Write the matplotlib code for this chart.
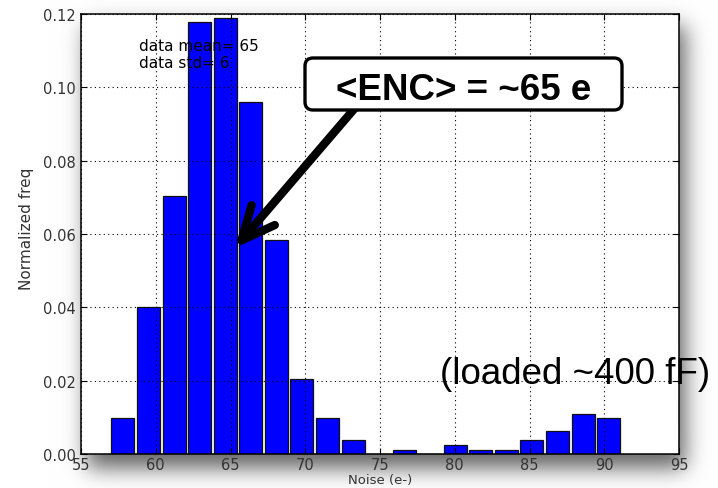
import matplotlib
matplotlib.use("Agg")
import matplotlib.pyplot as plt
import numpy as np
from matplotlib.patches import FancyBboxPatch

# histogram: 20 bins, first edge ~56.95, width ~1.71
bin_start = 56.95
bin_width = 1.71
freq = [0.0098, 0.0402, 0.0705, 0.1177, 0.1189, 0.0960, 0.0585, 0.0205,
        0.0098, 0.0037, 0.0, 0.0012, 0.0, 0.0025, 0.0012, 0.0012,
        0.0037, 0.0062, 0.0110, 0.0098]
x_ticks = [55, 60, 65, 70, 75, 80, 85, 90, 95]
y_ticks = [0.00, 0.02, 0.04, 0.06, 0.08, 0.10, 0.12]
stats_text = "data mean= 65\ndata std= 6"
enc_text = "<ENC> = ~65 e"
load_text = "(loaded ~400 fF)"

W, H = 718, 489
fig = plt.figure(figsize=(W / 100, H / 100), dpi=100)
fig.patch.set_facecolor("white")

# -----------------------------------------------------------------------------
# soft drop shadow of the plot frame (offset down/right, blurred)
# -----------------------------------------------------------------------------
pad = 60
mask = np.zeros((H + 2 * pad, W + 2 * pad))
mask[pad + 15 + 12:pad + 455 + 14, pad + 81 + 6:pad + 679 + 6] = 1.0
k = np.exp(-0.5 * (np.arange(-40, 41) / 11.0) ** 2)
k /= k.sum()
mask = np.apply_along_axis(lambda r: np.convolve(r, k, mode="same"), 1, mask)
mask = np.apply_along_axis(lambda c: np.convolve(c, k, mode="same"), 0, mask)
mask = mask[pad:pad + H, pad:pad + W]
shade = 1.0 - 0.62 * mask
img = np.dstack([shade, shade, shade])
fig.figimage(img, xo=0, yo=0, origin="upper", zorder=-1)

ax = fig.add_axes([81 / W, 1 - 455 / H, 598 / W, 440 / H])
ax.set_facecolor("white")

edges = bin_start + bin_width * np.arange(len(freq))
centers = edges + bin_width / 2
ax.bar(centers, freq, width=bin_width * 0.9, color="#0000ff",
       edgecolor="#111111", linewidth=0.9, zorder=2)

ax.set_xlim(55, 95)
ax.set_ylim(0, 0.12)
ax.set_xticks(x_ticks)
ax.set_yticks(y_ticks)
ax.set_yticklabels(["%.2f" % v for v in y_ticks])
ax.grid(True, color="black", linestyle=(0, (1, 3)), linewidth=0.8, zorder=1)
ax.set_axisbelow(False)
ax.tick_params(direction="in", length=4, width=0.8, top=True, right=True,
               labelsize=10.5, labelcolor="#333333", pad=4)
ax.tick_params(axis="x", pad=2.5)
for s in ax.spines.values():
    s.set_linewidth(1.1)

ax.set_xlabel("Noise (e-)", fontsize=9.5, color="#333333")
ax.set_ylabel("Normalized freq", fontsize=11, color="#333333")
ax.xaxis.set_label_coords(0.5, -0.043)
ax.yaxis.set_label_coords(-0.079, 0.515)

ax.text(58.9, 0.1135, stats_text, fontsize=11, va="top", ha="left",
        linespacing=1.2, zorder=3)

# arrow from the label box down to the peak
ax.annotate("", xy=(2.35, 2.40), xycoords=fig.dpi_scale_trans,
            xytext=(3.55, 3.80), textcoords=fig.dpi_scale_trans,
            arrowprops=dict(arrowstyle="->,head_length=2.4,head_width=1.1",
                            lw=6, color="black", mutation_scale=10,
                            shrinkA=0, shrinkB=0))

box = FancyBboxPatch((3.05, 3.78), 3.17, 0.52,
                     boxstyle="round,pad=0,rounding_size=0.08",
                     transform=fig.dpi_scale_trans, facecolor="white",
                     edgecolor="black", linewidth=2.4, zorder=5)
fig.patches.append(box)
fig.text(4.635, 3.89, enc_text, transform=fig.dpi_scale_trans,
         ha="center", va="baseline", fontsize=26.5, fontweight="bold",
         family="Liberation Sans", zorder=6)

fig.text(5.75, 1.05, load_text, transform=fig.dpi_scale_trans,
         ha="center", va="baseline", fontsize=26.5,
         family="Liberation Sans", zorder=6)

fig.savefig("out.png", dpi=100)
